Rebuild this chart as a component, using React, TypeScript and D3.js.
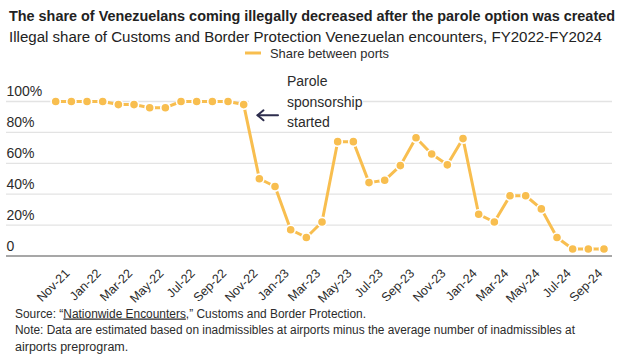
import React from "react";
import * as d3 from "d3";

const months = [
  "Oct-21", "Nov-21", "Dec-21", "Jan-22", "Feb-22", "Mar-22", "Apr-22", "May-22", "Jun-22",
  "Jul-22", "Aug-22", "Sep-22", "Oct-22", "Nov-22", "Dec-22", "Jan-23", "Feb-23", "Mar-23",
  "Apr-23", "May-23", "Jun-23", "Jul-23", "Aug-23", "Sep-23", "Oct-23", "Nov-23", "Dec-23",
  "Jan-24", "Feb-24", "Mar-24", "Apr-24", "May-24", "Jun-24", "Jul-24", "Aug-24", "Sep-24",
];

const shareValues = [
  100, 100, 100, 100, 98, 98, 96, 96, 100, 100, 100, 100, 98,
  50, 45, 17, 12, 22, 74, 74, 47.5, 49, 58.5, 76.5, 66, 59, 76,
  27, 22, 39, 39, 30.5, 12, 4.5, 4.5, 4.5,
];

const tickLabels = [
  "Nov-21", "Jan-22", "Mar-22", "May-22", "Jul-22", "Sep-22", "Nov-22", "Jan-23", "Mar-23",
  "May-23", "Jul-23", "Sep-23", "Nov-23", "Jan-24", "Mar-24", "May-24", "Jul-24", "Sep-24",
];

const yTicks = [0, 20, 40, 60, 80, 100];

const title = "The share of Venezuelans coming illegally decreased after the parole option was created";
const subtitle = "Illegal share of Customs and Border Protection Venezuelan encounters, FY2022-FY2024";
const seriesName = "Share between ports";
const annotationLines = ["Parole", "sponsorship", "started"];

const ORANGE = "#F8BE4F";
const TEXT = "#2b2b2b";
const NARROW = "'Liberation Sans Narrow', 'Arial Narrow', 'Liberation Sans', Arial, sans-serif";
const SANS = "'Liberation Sans', Arial, sans-serif";

export default function App() {
  const W = 626;
  const H = 357;
  const x = d3.scalePoint<string>().domain(months).range([55.7, 604]);
  const y = d3.scaleLinear().domain([0, 100]).range([256, 101.5]);
  const gridX0 = 6;
  const gridX1 = 612;

  const line = d3
    .line<number>()
    .x((_, i) => x(months[i]) as number)
    .y((d) => y(d));

  return (
    <svg
      width={W}
      height={H}
      style={{ position: "absolute", left: 0, top: 0, background: "#fff" }}
    >
      <rect x={0} y={0} width={W} height={H} fill="#fff" />
      {/* Titles */}
      <text x={9} y={20.7} fontFamily={NARROW} fontWeight="bold" fontSize={14.5} fill="#222"
        textLength={606} lengthAdjust="spacingAndGlyphs">{title}</text>
      <text x={9} y={42.3} fontFamily={NARROW} fontSize={15.2} fill="#222"
        textLength={593} lengthAdjust="spacingAndGlyphs">{subtitle}</text>
      {/* Legend */}
      <line x1={245} x2={261} y1={53} y2={53} stroke={ORANGE} strokeWidth={3} />
      <text x={270} y={57.5} fontFamily={NARROW} fontSize={13} fill={TEXT}
        textLength={119} lengthAdjust="spacingAndGlyphs">{seriesName}</text>

      {/* Gridlines */}
      {yTicks.filter((t) => t > 0).map((t) => (
        <line key={t} x1={gridX0} x2={gridX1} y1={y(t)} y2={y(t)} stroke="#e3e3e3" strokeWidth={1.3} />
      ))}
      {/* Y labels */}
      {yTicks.map((t) => (
        <text key={t} x={6.5} y={y(t) - 5.5} fontFamily={SANS} fontSize={14} fill={TEXT}>
          {t === 0 ? "0" : `${t}%`}
        </text>
      ))}
      {/* Axis line */}
      <line x1={gridX0} x2={gridX1} y1={y(0)} y2={y(0)} stroke="#8a8a8a" strokeWidth={1.5} />

      {/* Annotation box */}
      <rect x={249} y={70} width={114} height={58} fill="#fff" />
      {annotationLines.map((l, i) => (
        <text key={l} x={287} y={86 + i * 20.5} fontFamily={SANS} fontSize={14} fill={TEXT}>{l}</text>
      ))}
      <g stroke="#2d2d4d" strokeWidth={2} fill="none" strokeLinecap="round" strokeLinejoin="round">
        <line x1={257.5} x2={278} y1={115.3} y2={115.3} />
        <polyline points="263.5,110.3 257.5,115.3 263.5,120.3" />
      </g>

      {/* Series */}
      <path d={line(shareValues) || ""} fill="none" stroke={ORANGE} strokeWidth={3} strokeLinejoin="round" />
      {shareValues.map((v, i) => (
        <circle key={i} cx={x(months[i]) as number} cy={y(v)} r={4.6} fill={ORANGE} stroke="#fff" strokeWidth={1.6} />
      ))}

      {/* X tick labels */}
      {tickLabels.map((m) => {
        const px = (x(m) as number) - 4;
        const py = 271;
        return (
          <text key={m} x={px} y={py} transform={`rotate(-45 ${px} ${py})`} textAnchor="end"
            fontFamily={NARROW} fontSize={12.5} fill={TEXT} dy="0.35em">{m}</text>
        );
      })}

      {/* Footnotes */}
      <text x={15} y={317.5} fontFamily={NARROW} fontSize={12.5} fill={TEXT}
        textLength={351} lengthAdjust="spacingAndGlyphs">
        Source: “<tspan style={{ textDecoration: "underline" }}>Nationwide Encounters</tspan>,” Customs and Border Protection.
      </text>
      <text x={15} y={334} fontFamily={NARROW} fontSize={12.5} fill={TEXT}
        textLength={560} lengthAdjust="spacingAndGlyphs">
        Note: Data are estimated based on inadmissibles at airports minus the average number of inadmissibles at
      </text>
      <text x={15} y={350.5} fontFamily={NARROW} fontSize={12.5} fill={TEXT}>
        airports preprogram.
      </text>
    </svg>
  );
}
